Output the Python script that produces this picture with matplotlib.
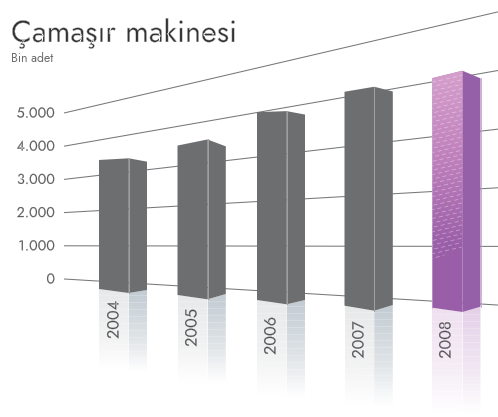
import numpy as np
import matplotlib
matplotlib.use("Agg")
import matplotlib.pyplot as plt
import matplotlib.patheffects as pe
from matplotlib.patches import Polygon
from matplotlib.colors import to_rgb

years = ["2004", "2005", "2006", "2007", "2008"]
values = [3660, 3750, 4220, 4310, 4190]
grid_values = [0, 1000, 2000, 3000, 4000, 5000]
grid_labels = ["0", "1.000", "2.000", "3.000", "4.000", "5.000"]
title = "Çamaşır makinesi"
subtitle = "Bin adet"

# layout of the drawing (pixels), not data
left_x = [99, 177.5, 257, 344.5, 432]
ridge_x = [128.7, 207.5, 286.7, 374.3, 462.5]
right_x = [147, 225.8, 305, 392.8, 480.5]
base_left = [289, 295, 300, 305.7, 307.7]
base_ridge = [293, 299.3, 304.3, 310.7, 312]
base_right = [290, 294, 300, 305, 306.7]
ridge_lift = [-0.7, 3.8, -2, 2.5, 4.3]
right_lift = [-1.9, -2, -1.3, 2.1, 2.7]
reflect_len = [80, 87, 95, 99, 105]
label_xy = [(114, 320), (192, 328), (271, 336), (359, 340), (446, 340)]

FONT = ["Jost", "Lato"]

def thin(w):
    return [pe.Normal(), pe.Stroke(linewidth=w, foreground="white")]

def grid_y(x, v):
    k = v / 1000
    return 279 - 33.2 * k + (x - 64) * (0.06 - 0.0586 * k)

def unit(x):
    return 33.2 + 0.0586 * (x - 64)

fig = plt.figure(figsize=(4.98, 4.17), dpi=100)
ax = fig.add_axes([0, 0, 1, 1])
ax.set_xlim(0, 498)
ax.set_ylim(417, 0)
ax.axis("off")

xs = np.array([64, 498])
for v, lab in zip(grid_values, grid_labels):
    ax.plot(xs, grid_y(xs, v), color="#77787a", lw=0.75, zorder=1, solid_capstyle="butt")
    ax.text(55, grid_y(64, v), lab, ha="right", va="center", fontsize=10.3,
            family=FONT, color="#4a4a4c", path_effects=thin(0.2))

def grad_face(poly, y0, y1, stops, zorder=2):
    t = np.linspace(0, 1, 256)
    pos = [s[0] for s in stops]
    cols = np.array([s[1] for s in stops])
    img = np.stack([np.interp(t, pos, cols[:, i]) for i in range(4)], axis=1)[:, None, :]
    im = ax.imshow(img, extent=[min(p[0] for p in poly), max(p[0] for p in poly), y1, y0],
                   aspect="auto", zorder=zorder, interpolation="bilinear")
    patch = Polygon(poly, closed=True, transform=ax.transData, fc="none", ec="none")
    ax.add_patch(patch)
    im.set_clip_path(patch)

def rgba(c, a):
    return (*to_rgb(c), a)

for i, (yr, val) in enumerate(zip(years, values)):
    lx, rx, qx = left_x[i], ridge_x[i], right_x[i]
    bl, br, bq = base_left[i], base_ridge[i], base_right[i]
    tl = bl - val / 1000 * unit(lx)
    tr = br - val / 1000 * unit(rx) - ridge_lift[i]
    tq = bq - 0.935 * val / 1000 * unit(qx) - right_lift[i]
    front = [(lx, tl), (rx, tr), (rx, br), (lx, bl)]
    side = [(rx, tr), (qx, tq), (qx, bq), (rx, br)]
    last = i == len(years) - 1

    # reflection
    L = reflect_len[i]
    c1 = "#efe0f0" if last else "#e8e9ea"
    c2 = "#e4d0e8" if last else "#c2cbd2"
    ref1 = [(lx, bl), (rx, br), (rx, bl + L), (lx, bl + L)]
    ref2 = [(rx, br), (qx, bq), (qx, bq + L + 2), (rx, br + L)]
    grad_face(ref1, bl, bl + L, [(0, rgba(c1, 1)), (0.6, rgba(c1, 0.55)), (1, rgba(c1, 0))], 2)
    grad_face(ref2, bq, bq + L + 2, [(0, rgba(c2, 1)), (0.6, rgba(c2, 0.5)), (1, rgba(c2, 0))], 2)
    for y in np.arange(bl + 6, bl + L, 7):
        ax.plot([lx, qx], [y, y], color="white", lw=0.5, alpha=0.3, zorder=2.5)

    if last:
        ax.add_patch(Polygon(side, closed=True, fc="#9660a8", ec="none", zorder=3))
        ax.add_patch(Polygon(front, closed=True, fc="#9a5ea8", ec="none", zorder=3))
        upper = [(lx, tl), (rx, tr), (rx, 247), (lx, 261)]
        grad_face(upper, tr, 247,
                  [(0, rgba("#d6a0cc", 1)), (0.5, rgba("#bf80bc", 1)), (1, rgba("#9a5ea8", 1))], 4)
        p = Polygon(upper, closed=True, transform=ax.transData, fc="none", ec="none")
        ax.add_patch(p)
        for n, y in enumerate(np.arange(tl + 4, 262, 4.4)):
            ln, = ax.plot([lx, rx], [y, y - 7], color="white", lw=0.6, alpha=0.38,
                          linestyle=(n * 3.1 % 8, (5, 3.5)), zorder=5)
            ln.set_clip_path(p)
        ax.plot([qx, qx], [tq, bq], color="#c4a6d0", lw=0.6, zorder=4)
        ax.plot([lx, lx], [tl, bl], color="#c4a6d0", lw=0.5, zorder=5)
    else:
        ax.add_patch(Polygon(side, closed=True, fc="#6d6e70", ec="none", zorder=3))
        ax.add_patch(Polygon(front, closed=True, fc="#6d6e70", ec="none", zorder=3))
        ax.plot([rx, rx], [tr, br], color="#a0a1a3", lw=0.7, zorder=4)

    t = ax.text(*label_xy[i], yr, rotation=90, ha="center", va="center", fontsize=11.7,
                family=FONT, color="#4a4a4c", zorder=6)
    bg = "#eef0f1" if not last else "#f3e8f4"
    t.set_path_effects([pe.Normal(), pe.Stroke(linewidth=0.2, foreground=bg)])

ax.set_xlim(0, 498)
ax.set_ylim(417, 0)

ax.text(11, 42, title, fontsize=22, family=FONT, color="#333335", va="baseline",
        path_effects=thin(0.35))
ax.text(11, 62, subtitle, fontsize=8.8, family=FONT, color="#6b6c6e", va="baseline")

fig.savefig("out.png", dpi=100, facecolor="white")
